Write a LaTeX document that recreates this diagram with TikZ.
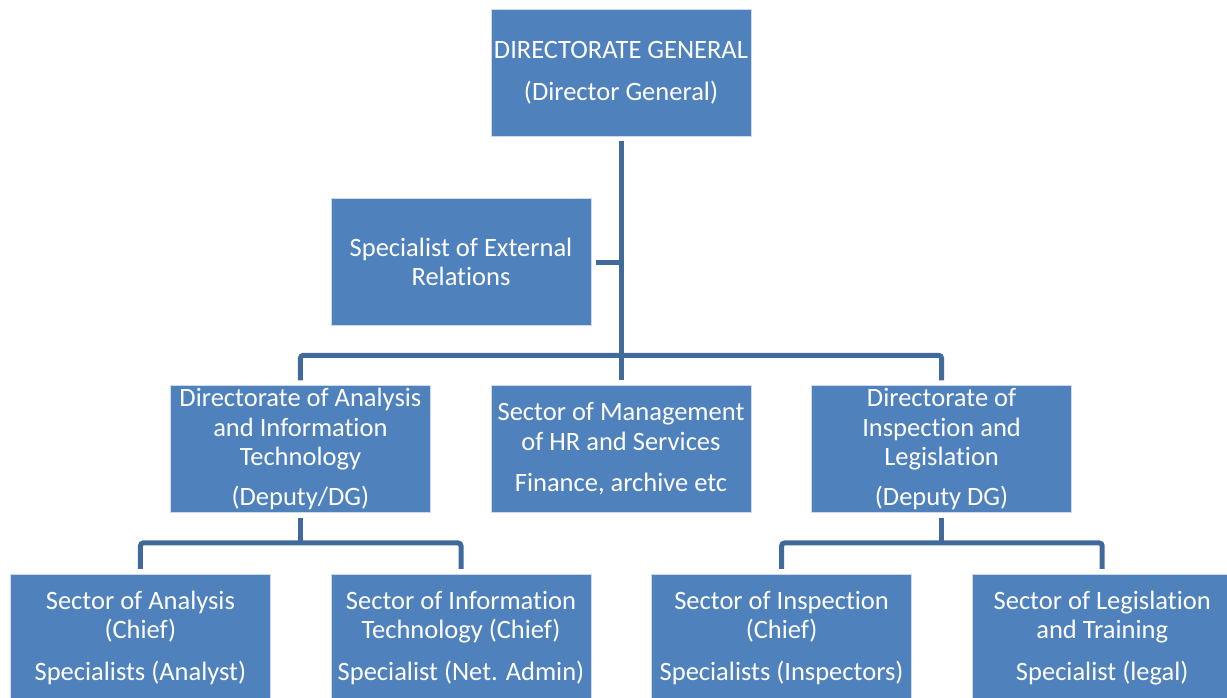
\documentclass[tikz,border=0pt]{standalone}
\usepackage{fontspec}
\setmainfont[Ligatures=NoCommon]{Carlito}
\usepackage{tikz}
\usetikzlibrary{positioning}
\definecolor{boxblue}{RGB}{79,129,189}
\definecolor{lineblue}{RGB}{64,106,155}

\begin{document}
\begin{tikzpicture}[
    node distance = 60pt and 60pt,
    punkt/.style = {rectangle, fill=boxblue, draw={rgb,255:red,205;green,218;blue,235}, line width=0.6pt,
                    minimum width=260pt, minimum height=127pt, inner sep=0pt,
                    align=center, text=white, font=\fontsize{26.5pt}{29.5pt}\selectfont},
    pil/.style = {lineblue, line width=5pt, rounded corners=3pt},
    ]

  \useasboundingbox (0pt,0pt) rectangle (1227pt,-697pt);

  \node[punkt] (dg) at (621pt,-72.5pt) {DIRECTORATE GENERAL\\[13pt](Director General)} ;
  \node[punkt] (ext) [below=62pt of dg, xshift=-160pt] {Specialist of External\\Relations} ;

  \node[punkt] (mid) [below=249pt of dg] {Sector of Management\\of HR and Services\\[12pt]Finance, archive etc} ;
  \node[punkt] (dadi) [left=of mid] {Directorate of Analysis\\and Information\\Technology\\[10pt](Deputy/DG)} ;
  \node[punkt] (dil) [right=of mid] {Directorate of\\Inspection and\\Legislation\\[10pt](Deputy DG)} ;

  \node[punkt] (sana) [below=61pt of dadi, xshift=-160pt] {Sector of Analysis\\(Chief)\\[12pt]Specialists (Analyst)} ;
  \node[punkt] (sit) [right=of sana] {Sector of Information\\Technology (Chief)\\[12pt]Specialist (Net. Admin)} ;
  \node[punkt] (sin) [below=61pt of dil, xshift=-160pt] {Sector of Inspection\\(Chief)\\[12pt]Specialists (Inspectors)} ;
  \node[punkt] (slt) [right=of sin] {Sector of Legislation\\and Training\\[12pt]Specialist (legal)} ;

  %\draw[pil] (dg.south) -- (ext.east) ;
  \draw[pil, shorten <=5pt, shorten >=5pt] (dg.south) -- (mid.north) ;
  \draw[pil, shorten <=5pt] (ext.east) -- (ext.east -| dg.south) ;
  \draw[pil, shorten <=5pt, shorten >=5pt] (dadi.north) -- ++(0,30pt) -| (dil.north) ;

  \draw[pil, shorten <=5pt, shorten >=5pt] (sana.north) -- ++(0,31pt) -| (sit.north) ;
  \draw[pil, shorten <=5pt] (dadi.south) -- ([yshift=31pt]sana.north -| dadi.south) ;
  \draw[pil, shorten <=5pt, shorten >=5pt] (sin.north) -- ++(0,31pt) -| (slt.north) ;
  \draw[pil, shorten <=5pt] (dil.south) -- ([yshift=31pt]sin.north -| dil.south) ;

\end{tikzpicture}
\end{document}
